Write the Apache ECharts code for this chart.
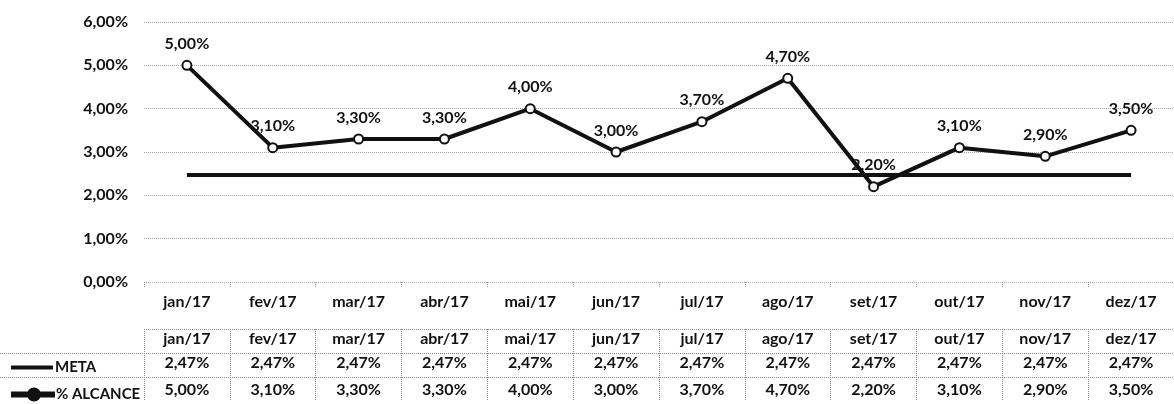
<!DOCTYPE html>
<html>
<head>
<meta charset="utf-8">
<script src="https://cdn.jsdelivr.net/npm/echarts@6/dist/echarts.min.js"></script>
<style>
html, body { margin: 0; padding: 0; background: #fff; }
#main { width: 1174px; height: 404px; }
</style>
</head>
<body>
<div id="main"></div>
<script>
var months = ['jan/17', 'fev/17', 'mar/17', 'abr/17', 'mai/17', 'jun/17', 'jul/17', 'ago/17', 'set/17', 'out/17', 'nov/17', 'dez/17']
var meta = [2.47, 2.47, 2.47, 2.47, 2.47, 2.47, 2.47, 2.47, 2.47, 2.47, 2.47, 2.47]
var alcance = [5.00, 3.10, 3.30, 3.30, 4.00, 3.00, 3.70, 4.70, 2.20, 3.10, 2.90, 3.50]
var tableRows = ['mes', 'META', '% ALCANCE']

function pct(v) {
  return Number(v).toFixed(2).replace('.', ',') + '%'
}

var ink = '#111'
var txt = { fontFamily: 'Lato', fontWeight: 'bold', fontSize: 16, color: ink }
var legTxt = { fontFamily: 'Lato', fontWeight: 'bold', fontSize: 15, color: ink, padding: [0, 0, 0, -3] }

// eixos extras usados como linhas da tabela de dados
function tableAxis(offset, fmt) {
  return {
    type: 'category', gridIndex: 0, position: 'bottom', offset: offset,
    data: months,
    axisLine: { show: false }, axisTick: { show: false },
    axisLabel: Object.assign({ margin: 12, interval: 0, formatter: fmt }, txt)
  }
}

// icones da legenda: linha grossa / linha com bolinha
var iconMeta = 'path://M0,0 H42 V4 H0 Z'
var iconAlc = 'path://M0,7 H17 V11 H0 Z M27,7 H42 V11 H27 Z M16,9 A5,5 0 1,0 28,9 A5,5 0 1,0 16,9 Z'

var myChart = echarts.init(document.getElementById('main'))
var option = {
  animation: false,
  backgroundColor: '#fff',
  grid: [
    { left: 144, top: 22, width: 1040, height: 260 },
    { left: 144, top: 329, width: 1040, height: 72 },
    { left: 0, top: 329, width: 144, height: 72 }
  ],
  legend: [
    { data: [{ name: 'META', icon: iconMeta }], left: 6, top: 355, itemWidth: 42, itemHeight: 4, itemGap: 4, textStyle: legTxt },
    { data: [{ name: '% ALCANCE', icon: iconAlc }], left: 6, top: 382, itemWidth: 42, itemHeight: 12, itemGap: 4, textStyle: legTxt }
  ],
  xAxis: [
    {
      type: 'category', gridIndex: 0, data: months,
      axisLine: { show: false },
      axisTick: { show: true, length: 5, lineStyle: { color: '#999', type: 'dotted' } },
      axisLabel: Object.assign({ margin: 12, interval: 0 }, txt)
    },
    tableAxis(37, function (v) { return v }),
    tableAxis(61, function (v, i) { return pct(meta[i]) }),
    tableAxis(88, function (v, i) { return pct(alcance[i]) }),
    {
      type: 'category', gridIndex: 1, data: months,
      axisLine: { show: false }, axisTick: { show: false }, axisLabel: { show: false },
      splitLine: { show: true, interval: 0, lineStyle: { color: '#888', type: 'dotted' } }
    },
    {
      type: 'category', gridIndex: 2, data: [''],
      axisLine: { show: false }, axisTick: { show: false }, axisLabel: { show: false },
      splitLine: { show: false }
    }
  ],
  yAxis: [
    {
      type: 'value', gridIndex: 0, min: 0, max: 6, interval: 1,
      axisLine: { show: false }, axisTick: { show: false },
      axisLabel: Object.assign({ margin: 16, formatter: pct }, txt),
      splitLine: { lineStyle: { color: '#aaa', type: 'dotted' } }
    },
    {
      type: 'category', gridIndex: 1, inverse: true, data: tableRows,
      axisLine: { show: false }, axisTick: { show: false }, axisLabel: { show: false },
      splitLine: { show: true, showMaxLine: false, lineStyle: { color: '#888', type: 'dotted' } }
    },
    {
      type: 'category', gridIndex: 2, inverse: true, data: tableRows,
      axisLine: { show: false }, axisTick: { show: false }, axisLabel: { show: false },
      splitLine: { show: true, showMinLine: false, showMaxLine: false, lineStyle: { color: '#888', type: 'dotted' } }
    }
  ],
  series: [
    {
      name: 'META', type: 'line', xAxisIndex: 0, yAxisIndex: 0,
      data: meta, symbol: 'none',
      lineStyle: { width: 4, color: ink },
      itemStyle: { color: ink }
    },
    {
      name: '% ALCANCE', type: 'line', xAxisIndex: 0, yAxisIndex: 0,
      data: alcance, symbol: 'emptyCircle', symbolSize: 9,
      lineStyle: { width: 4, color: ink },
      itemStyle: { color: ink, borderColor: ink, borderWidth: 3 },
      label: Object.assign({ show: true, position: 'top', distance: 8, formatter: function (p) { return pct(p.value) } }, txt)
    }
  ]
}
myChart.setOption(option)
</script>
</body>
</html>
